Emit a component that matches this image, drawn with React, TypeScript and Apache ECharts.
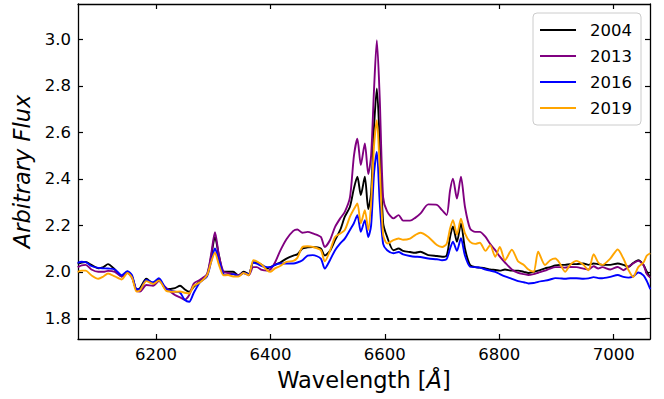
import React, { useEffect, useRef } from "react";
import * as echarts from "echarts";

const wavelength = [
  6063, 6070, 6077, 6087, 6099, 6108, 6116, 6128, 6140, 6150,
  6158, 6166, 6172, 6183, 6195, 6205, 6218, 6233, 6242, 6250,
  6258, 6266, 6277, 6289, 6296, 6303, 6310, 6318, 6326, 6335,
  6344, 6353, 6362, 6370, 6376, 6385, 6394, 6400, 6408, 6417,
  6428, 6440, 6447, 6456, 6465, 6474, 6488, 6495, 6504, 6513,
  6522, 6530, 6539, 6546, 6552, 6558, 6565, 6571, 6576, 6581,
  6586, 6591, 6597, 6604, 6615, 6624, 6632, 6644, 6653, 6662,
  6676, 6691, 6700, 6708, 6714, 6719, 6726, 6733, 6740, 6749,
  6758, 6766, 6776, 6784, 6793, 6801, 6810, 6822, 6833, 6843,
  6851, 6860, 6868, 6880, 6889, 6898, 6906, 6915, 6924, 6935,
  6947, 6956, 6965, 6973, 6980, 6994, 7007, 7017, 7026, 7034,
  7043, 7052, 7058, 7064,
];

const flux2004 = [
  2.035, 2.04, 2.042, 2.03, 2.015, 2.02, 2.033, 2.01, 1.98, 2.0,
  1.98, 1.925, 1.93, 1.97, 1.95, 1.968, 1.925, 1.93, 1.94, 1.925,
  1.914, 1.935, 1.96, 1.985, 2.06, 2.15, 2.07, 2.0, 2.0, 2.0,
  1.985, 2.0, 1.99, 2.04, 2.04, 2.03, 2.015, 2.02, 2.03, 2.04,
  2.057, 2.07, 2.075, 2.1, 2.105, 2.107, 2.1, 2.07, 2.09, 2.136,
  2.18, 2.237, 2.28, 2.36, 2.409, 2.33, 2.409, 2.27, 2.34, 2.62,
  2.789, 2.56, 2.21, 2.15, 2.093, 2.1, 2.09, 2.085, 2.082, 2.086,
  2.072, 2.068, 2.065, 2.07, 2.15, 2.195, 2.129, 2.208, 2.1, 2.029,
  2.02, 2.018, 2.015, 2.01, 2.008, 2.005, 2.01, 2.005, 2.005, 2.0,
  1.995, 2.0, 2.005, 2.015, 2.02, 2.028, 2.03, 2.03, 2.033, 2.033,
  2.036, 2.03, 2.036, 2.033, 2.03, 2.03, 2.036, 2.03, 2.022, 2.038,
  2.05, 2.03, 2.0, 1.975,
];

const flux2013 = [
  2.02, 2.028, 2.03, 2.01, 2.0, 2.0, 2.004, 2.0, 1.98, 1.995,
  1.975, 1.92, 1.915, 1.943, 1.94, 1.96, 1.93, 1.9, 1.89, 1.88,
  1.9, 1.95, 1.966, 1.99, 2.07, 2.17, 2.07, 2.0, 1.995, 1.99,
  1.985, 1.995, 1.985, 2.02, 2.02, 2.008, 2.005, 2.01, 2.04, 2.09,
  2.14, 2.176, 2.182, 2.168, 2.172, 2.165, 2.15, 2.107, 2.136, 2.193,
  2.23, 2.258, 2.32, 2.5, 2.573, 2.459, 2.552, 2.42, 2.5, 2.78,
  2.996, 2.75, 2.32, 2.26, 2.23, 2.244, 2.22, 2.22, 2.232, 2.25,
  2.29, 2.288, 2.265, 2.244, 2.35, 2.401, 2.315, 2.409, 2.28, 2.186,
  2.172, 2.172, 2.15, 2.12, 2.093, 2.065, 2.04, 2.01, 1.995, 1.99,
  1.986, 1.99, 1.996, 2.005, 2.014, 2.02, 2.02, 2.018, 2.021, 2.02,
  2.014, 2.01, 2.024, 2.014, 2.02, 2.01, 2.021, 2.007, 2.022, 2.036,
  2.047, 2.03, 1.99, 1.975,
];

const flux2016 = [
  2.038, 2.043, 2.042, 2.025, 2.017, 2.015, 2.014, 2.01, 1.985, 2.003,
  1.985, 1.925, 1.925, 1.965, 1.955, 1.972, 1.925, 1.915, 1.91, 1.88,
  1.871, 1.91, 1.955, 1.98, 2.04, 2.1, 2.05, 1.99, 1.986, 1.99,
  1.982, 1.995, 1.99, 2.04, 2.035, 2.025, 2.02, 2.02, 2.03, 2.036,
  2.036, 2.036, 2.04, 2.05, 2.07, 2.072, 2.057, 2.014, 2.05, 2.093,
  2.122, 2.143, 2.18, 2.21, 2.244, 2.172, 2.222, 2.15, 2.2, 2.42,
  2.516, 2.3, 2.12, 2.093, 2.08, 2.085, 2.075, 2.068, 2.065, 2.064,
  2.057, 2.054, 2.05, 2.055, 2.1, 2.13, 2.09, 2.145, 2.07, 2.022,
  2.02, 2.018, 2.01, 2.005, 2.0, 1.99, 1.98, 1.97, 1.96, 1.955,
  1.95, 1.952, 1.957, 1.962, 1.967, 1.973, 1.972, 1.97, 1.972, 1.972,
  1.97, 1.972, 1.977, 1.973, 1.972, 1.978, 1.986, 1.978, 1.975, 1.98,
  1.997, 1.985, 1.96, 1.925,
];

const flux2019 = [
  2.0, 2.005, 2.005, 1.985, 1.97, 1.98, 1.993, 1.98, 1.967, 1.995,
  1.975, 1.915, 1.92, 1.96, 1.948, 1.963, 1.918, 1.914, 1.915, 1.91,
  1.907, 1.94, 1.955, 1.985, 2.04, 2.082, 2.03, 1.985, 1.986, 1.98,
  1.98, 1.995, 1.985, 2.05, 2.045, 2.03, 2.007, 2.0, 2.015, 2.025,
  2.043, 2.047, 2.06, 2.107, 2.11, 2.107, 2.093, 2.045, 2.09, 2.15,
  2.165, 2.18, 2.237, 2.27, 2.294, 2.208, 2.265, 2.18, 2.3, 2.54,
  2.652, 2.45, 2.16, 2.122, 2.136, 2.143, 2.138, 2.143, 2.158, 2.168,
  2.15, 2.115, 2.107, 2.12, 2.186, 2.222, 2.16, 2.229, 2.165, 2.129,
  2.12, 2.125, 2.09, 2.115, 2.065, 2.107, 2.05, 2.095, 2.045, 2.029,
  2.01, 2.0, 2.086, 2.029, 2.05, 2.057, 2.036, 2.0, 2.03, 2.047,
  2.03, 2.007, 2.076, 2.04, 2.03, 2.057, 2.096, 2.057, 2.007, 1.978,
  2.02, 2.04, 2.07, 2.08,
];

const seriesNames = ["2004", "2013", "2016", "2019"];
const seriesColors = ["#000000", "#800080", "#0000ff", "#ffa500"];
const xTicks = [6200, 6400, 6600, 6800, 7000];
const yTicks = [1.8, 2.0, 2.2, 2.4, 2.6, 2.8, 3.0];
const baselineLevel = 1.8;

const FONT = "DejaVu Sans";

export default function App() {
  const ref = useRef<HTMLDivElement>(null);

  useEffect(() => {
    document.body.style.margin = "0";
    if (!ref.current) return;
    const chart = echarts.init(ref.current, undefined, { renderer: "svg" });
    const allFlux = [flux2004, flux2013, flux2016, flux2019];
    const xMin = 6063.6;
    const xMax = 7063.5;
    const yMin = 1.711;
    const yMax = 3.152;

    const tickStyle = { inside: true, length: 5, lineStyle: { color: "#000", width: 1.2 } };

    const xBase = {
      type: "value" as const,
      min: xMin,
      max: xMax,
      splitLine: { show: false },
      axisLine: { show: true, onZero: false, lineStyle: { color: "#000", width: 1.3 } },
    };
    const yBase = {
      type: "value" as const,
      min: yMin,
      max: yMax,
      splitLine: { show: false },
      axisLine: { show: true, onZero: false, lineStyle: { color: "#000", width: 1.3 } },
    };

    chart.setOption({
      animation: false,
      backgroundColor: "#ffffff",
      grid: { left: 78, right: 14, top: 4, bottom: 60, containLabel: false },
      legend: {
        show: true,
        data: seriesNames.map((n) => ({ name: n })),
        orient: "vertical",
        right: 23,
        top: 13,
        icon: "rect",
        itemWidth: 36,
        itemHeight: 2,
        itemGap: 6,
        padding: [7, 9, 7, 7],
        borderColor: "#cccccc",
        borderWidth: 1,
        borderRadius: 4,
        backgroundColor: "rgba(255,255,255,0.8)",
        textStyle: {
          fontFamily: FONT,
          fontSize: 16.5,
          color: "#000",
          lineHeight: 20,
          padding: [0, 0, 0, 9],
        },
      },
      xAxis: [
        {
          ...xBase,
          position: "bottom",
          name: "{a|Wavelength [}{b|Å}{a|]}",
          nameLocation: "middle",
          nameGap: 29,
          nameTextStyle: {
            fontFamily: FONT,
            fontSize: 22.5,
            color: "#000",
            rich: {
              a: { fontFamily: FONT, fontSize: 22.5, color: "#000" },
              b: { fontFamily: FONT, fontSize: 22.5, color: "#000", fontStyle: "italic" },
            },
          },
          axisTick: { ...tickStyle, customValues: xTicks },
          axisLabel: {
            customValues: xTicks,
            formatter: (v: number) => String(Math.round(v)),
            fontFamily: FONT,
            fontSize: 16.5,
            color: "#000",
            margin: 7,
          },
        },
        {
          ...xBase,
          position: "top",
          axisTick: { ...tickStyle, customValues: xTicks },
          axisLabel: { show: false, customValues: xTicks },
        },
      ],
      yAxis: [
        {
          ...yBase,
          position: "left",
          name: "Arbitrary Flux",
          nameLocation: "middle",
          nameGap: 41,
          nameTextStyle: { fontFamily: FONT, fontSize: 22.5, fontStyle: "italic", color: "#000" },
          axisTick: { ...tickStyle, customValues: yTicks },
          axisLabel: {
            customValues: yTicks,
            formatter: (v: number) => v.toFixed(1),
            fontFamily: FONT,
            fontSize: 16.5,
            color: "#000",
            margin: 7,
          },
        },
        {
          ...yBase,
          position: "right",
          axisTick: { ...tickStyle, customValues: yTicks },
          axisLabel: { show: false, customValues: yTicks },
        },
      ],
      series: seriesNames.map((name, i) => ({
        name,
        type: "line",
        xAxisIndex: 0,
        yAxisIndex: 0,
        data: wavelength.map((w, j) => [w, allFlux[i][j]]),
        showSymbol: false,
        symbol: "none",
        smooth: 0.25,
        color: seriesColors[i],
        lineStyle: { color: seriesColors[i], width: 1.9 },
        clip: true,
        markLine:
          i === 0
            ? {
                silent: true,
                symbol: ["none", "none"],
                label: { show: false },
                lineStyle: { color: "#000", width: 1.8, type: [9, 4.3] },
                data: [{ yAxis: baselineLevel }],
              }
            : undefined,
      })),
    });

    return () => chart.dispose();
  }, []);

  return <div ref={ref} style={{ width: 664, height: 399 }} />;
}
